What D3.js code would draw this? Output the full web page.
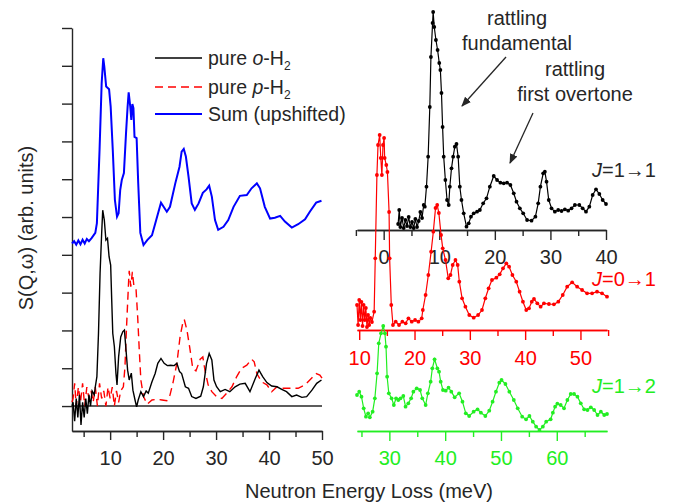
<!DOCTYPE html>
<html>
<head>
<meta charset="utf-8">
<script src="https://cdn.jsdelivr.net/npm/d3@7"></script>
<style>
  body { margin: 0; background: #fff; }
  svg { font-family: "Liberation Sans", Arial, sans-serif; }
</style>
</head>
<body>
<div id="chart"></div>
<script>
// left panel: [energy (meV), S] in tick units
const orthoH2 = [[2.8,0.0],[3.0,0.1],[3.3,-0.4],[3.6,0.2],[3.9,-0.3],[4.2,0.3],[4.5,-0.5],[4.8,0.1],[5.1,-0.3],[5.4,0.2],[5.7,-0.2],[6.0,0.3],[6.3,0.0],[6.6,0.4],[7.0,0.3],
  [7.2,0.51],[7.5,0.78],[7.8,1.92],[8.1,3.51],[8.4,4.57],[8.6,5.18],[8.9,4.92],[9.2,4.39],[9.5,4.44],[9.8,3.95],[10.1,3.73],[10.3,2.8],[10.5,1.92],[10.8,1.57],[11.1,0.86],[11.3,0.56],[11.6,1.3],[12.0,1.83],[12.4,1.97],[12.7,2.01],[13.0,1.48],[13.3,0.95],[13.6,0.69],[14.0,0.87],[14.3,0.42],[14.7,0.16],[15.0,-0.02],[15.3,0.16],[15.8,0.38],[16.3,0.25],[16.8,0.4],[17.2,0.34],[17.9,0.64],[18.5,0.86],[19.0,1.13],[19.6,1.26],[20.2,1.13],[20.8,1.07],[21.4,1.08],[22.1,1.07],[22.6,1.13],[23.1,0.91],[23.5,0.86],[24.2,0.51],[24.8,0.47],[25.4,0.25],[26.2,0.2],[27.1,0.26],[27.6,0.51],[28.2,1.13],[28.7,1.39],[29.2,1.22],[29.6,0.69],[30.1,0.51],[30.8,0.38],[31.7,0.44],[32.6,0.38],[33.6,0.51],[34.5,0.58],[35.5,0.6],[36.4,0.38],[37.4,0.73],[38.1,0.95],[38.8,0.78],[39.6,0.62],[40.5,0.53],[41.5,0.51],[42.4,0.44],[43.3,0.38],[44.3,0.25],[45.2,0.29],[46.2,0.23],[47.1,0.25],[48.1,0.42],[49.0,0.6],[49.9,0.69]];

const paraH2 = [[2.8,0.1],[3.0,0.2],[3.3,0.6],[3.6,0.0],[4.0,0.5],[4.4,0.1],[4.8,0.6],[5.2,0.0],[5.6,0.5],[6.0,0.2],[6.4,0.4],[6.8,0.1],[7.2,0.5],[7.6,0.0],[8.0,0.6],[8.4,0.2],[8.8,0.4],[9.2,0.0],[9.6,0.5],[10.0,0.2],[10.4,0.5],[10.8,0.0],[11.2,0.4],[11.6,0.1],[12.0,0.4],
  [12.5,0.51],[12.8,1.04],[13.1,2.1],[13.5,3.33],[13.6,3.58],[13.9,3.16],[14.2,3.55],[14.5,3.16],[14.9,3.07],[15.2,2.36],[15.5,1.48],[15.8,0.69],[16.3,0.25],[17.0,0.05],[17.9,0.16],[18.8,0.18],[19.8,0.16],[20.7,0.14],[21.3,0.29],[21.9,0.64],[22.6,1.13],[23.2,1.83],[23.7,2.19],[24.0,2.29],[24.5,2.01],[25.0,1.57],[25.6,1.0],[26.2,0.93],[27.0,1.24],[27.5,1.3],[27.9,0.95],[28.5,0.56],[29.2,0.38],[30.1,0.25],[31.1,0.2],[32.0,0.34],[33.0,0.51],[33.9,0.78],[34.8,1.0],[35.8,1.08],[36.7,1.24],[37.2,1.17],[37.7,0.86],[38.6,0.64],[39.6,0.56],[40.5,0.38],[41.5,0.51],[42.7,0.47],[44.0,0.47],[45.5,0.47],[46.8,0.56],[47.7,0.69],[48.9,0.86],[49.6,0.82],[50.0,0.74]];

const sumH2 = [[2.8,4.3],[3.2,4.36],[3.6,4.27],[4.0,4.38],[4.4,4.28],[4.8,4.4],[5.2,4.3],[5.6,4.42],[6.0,4.36],[6.5,4.44],[7.2,4.58],[7.5,4.84],[8.0,6.77],[8.4,8.54],[8.7,9.2],[8.9,8.98],[9.25,8.45],[9.8,8.38],[10.1,7.92],[10.5,6.77],[10.9,5.45],[11.3,5.01],[11.6,5.1],[11.9,5.71],[12.2,5.98],[12.6,6.16],[13.0,7.22],[13.3,7.92],[13.5,8.3],[13.8,7.92],[14.0,7.57],[14.2,7.99],[14.4,7.88],[14.6,7.12],[15.0,7.09],[15.3,5.9],[15.7,4.58],[16.3,4.26],[17.0,4.39],[17.9,4.52],[18.7,4.92],[19.6,5.38],[20.1,5.27],[20.7,5.14],[21.3,5.27],[22.3,5.89],[23.1,6.33],[23.5,6.73],[23.9,6.8],[24.3,6.6],[24.8,6.07],[25.4,5.36],[26.0,5.19],[26.7,5.36],[27.5,5.64],[28.2,5.73],[28.7,5.83],[29.2,5.54],[29.8,4.92],[30.4,4.66],[31.4,4.74],[32.3,4.92],[33.3,5.27],[34.5,5.56],[35.8,5.58],[36.7,5.76],[37.7,5.89],[38.3,5.76],[39.2,5.27],[40.2,4.96],[41.1,4.98],[42.1,5.03],[43.0,4.88],[44.3,4.72],[45.5,4.81],[46.8,4.94],[47.7,5.14],[48.9,5.38],[49.9,5.43]];

// right panel: [energy (meV), intensity]
const rattleJ11 = [[2.6,0.6],[2.8,2.0],[3.0,0.3],[3.3,1.2],[3.6,0.2],[3.9,1.0],[4.2,0.4],[4.5,1.3],[4.8,0.3],[5.1,0.8],[5.4,0.2],[5.7,1.1],[6.0,0.3],[6.3,0.9],[6.6,1.8],[6.9,1.2],[7.2,2.5],
  [7.4,2.33],[7.7,4.33],[8.0,7.33],[8.3,12.3],[8.5,17.3],[8.8,20.7],[8.9,21.8],[9.1,20.3],[9.4,19.0],[9.7,18.0],[10.0,16.7],[10.2,16.0],[10.4,13.7],[10.6,10.3],[10.8,7.33],[11.1,5.0],[11.4,3.0],[11.7,2.5],[11.9,4.33],[12.2,6.17],[12.5,7.33],[12.8,8.33],[13.1,8.6],[13.4,7.33],[13.7,4.33],[14.0,3.0],[14.4,1.67],[14.9,0.33],[15.3,0.67],[15.7,1.33],[16.2,1.67],[16.8,1.83],[17.3,2.0],[17.9,2.67],[18.5,3.17],[19.1,4.33],[19.8,5.4],[20.4,5.0],[21.0,4.73],[21.6,4.67],[22.2,4.73],[22.8,4.5],[23.4,3.67],[23.9,2.83],[24.5,2.17],[25.1,1.67],[25.8,1.0],[26.6,0.93],[27.3,1.33],[27.8,2.67],[28.2,4.33],[28.7,5.67],[29.0,5.83],[29.3,4.83],[29.7,3.0],[30.2,2.17],[30.8,1.83],[31.4,2.0],[32.0,1.9],[32.6,2.07],[33.2,1.93],[33.8,2.17],[34.4,2.5],[35.2,2.5],[35.8,2.17],[36.4,1.83],[37.0,2.33],[37.6,3.5],[38.2,4.07],[38.8,3.6],[39.4,3.0],[40.0,2.6]];

const rattleJ01 = [[9.6,2.5],[9.8,0.5],[10.0,3.0],[10.2,1.0],[10.4,2.8],[10.6,0.4],[10.8,2.5],[11.0,1.0],[11.2,2.2],[11.4,0.3],[11.6,1.5],[11.8,0.5],[12.0,1.2],[12.3,0.8],
  [12.7,1.83],[12.9,7.17],[13.2,15.5],[13.4,18.5],[13.7,19.5],[13.9,17.2],[14.1,15.5],[14.3,18.5],[14.5,19.2],[14.6,17.2],[14.9,16.5],[15.1,15.8],[15.4,11.8],[15.5,7.17],[15.8,2.5],[16.1,0.5],[16.6,0.83],[17.2,0.5],[17.8,0.83],[18.4,0.67],[18.9,1.17],[19.5,0.83],[20.1,1.0],[20.7,0.83],[21.3,1.17],[21.5,2.0],[22.0,3.5],[22.5,5.5],[23.0,7.83],[23.4,9.83],[23.8,12.2],[24.1,12.5],[24.4,11.7],[24.8,9.5],[25.1,8.17],[25.6,7.0],[26.1,5.17],[26.5,5.5],[26.9,6.5],[27.4,7.0],[27.8,6.5],[28.1,4.83],[28.6,3.17],[29.2,2.33],[29.9,1.5],[30.7,1.23],[31.5,1.5],[32.2,2.0],[32.8,3.17],[33.4,4.17],[34.0,5.0],[34.8,5.23],[35.4,5.57],[36.0,6.17],[36.6,6.67],[37.1,6.33],[37.7,5.5],[38.4,4.83],[39.0,3.83],[39.6,2.83],[40.2,2.0],[40.7,2.17],[41.2,2.83],[41.6,3.1],[42.2,2.67],[42.8,2.33],[43.4,2.67],[44.3,2.6],[45.2,2.57],[46.0,2.83],[46.8,3.5],[47.6,4.33],[48.5,4.77],[49.4,4.33],[50.3,4.0],[51.2,3.67],[52.1,3.67],[53.0,3.83],[53.9,3.67],[54.8,3.33]];

const rattleJ12 = [[24.2,3.6],[24.6,3.93],[25.0,3.43],[25.4,2.27],[25.8,1.43],[26.2,1.77],[26.5,1.37],[27.0,1.93],[27.4,3.27],[27.8,5.77],[28.1,8.77],[28.5,9.77],[28.9,10.5],[29.2,9.77],[29.4,8.43],[29.6,5.43],[29.9,3.77],[30.4,3.27],[30.8,2.6],[31.2,3.27],[31.6,3.1],[32.0,3.27],[32.5,3.5],[32.9,2.43],[33.4,2.77],[33.9,3.27],[34.3,3.93],[34.9,4.27],[35.5,4.1],[35.9,3.27],[36.5,2.6],[36.9,3.77],[37.4,4.93],[37.7,6.27],[38.1,7.17],[38.6,6.27],[38.9,5.93],[39.2,4.93],[39.6,4.1],[40.1,4.03],[40.6,4.33],[41.1,3.93],[41.7,3.37],[42.5,3.77],[43.1,2.93],[43.7,1.77],[44.3,1.5],[45.1,1.93],[45.8,2.17],[46.4,1.83],[47.2,1.5],[47.9,2.03],[48.5,2.93],[49.1,3.93],[49.7,4.83],[50.1,5.1],[50.8,4.7],[51.5,3.93],[52.3,3.1],[53.0,2.27],[53.8,1.43],[54.5,1.17],[55.1,1.5],[55.7,0.93],[56.3,0.43],[56.9,0.1],[57.5,0.43],[58.1,0.93],[58.9,1.17],[59.3,1.83],[59.7,2.43],[60.1,2.73],[60.7,2.6],[61.3,2.27],[61.9,3.1],[62.5,3.7],[63.1,3.7],[63.7,3.43],[64.3,2.77],[64.9,2.17],[65.5,2.1],[66.1,2.37],[66.7,2.1],[67.3,1.6],[67.9,1.93],[68.5,1.6],[69.0,1.7]];

// tick values
const leftXTicks = [10, 20, 30, 40, 50];
const leftXMinor = [5, 15, 25, 35, 45];
const leftYTicks = d3.range(0, 11);
const topTicks = [0, 10, 20, 30, 40];
const topMinor = [-5, 5, 15, 25, 35];
const midTicks = [10, 20, 30, 40, 50];
const midMinor = [15, 25, 35, 45, 55];
const lowTicks = [30, 40, 50, 60];
const lowMinor = [25, 35, 45, 55, 65];

const legendItems = [
  { pre: "pure ", it: "o", post: "-H", sub: "2", color: "#000", dash: null },
  { pre: "pure ", it: "p", post: "-H", sub: "2", color: "#ff0000", dash: "8,5" },
  { pre: "Sum (upshifted)", it: "", post: "", sub: "", color: "#0000ff", dash: null }
];

const W = 674, H = 504;
const ink = "#262626";
const red = "#ff0000", green = "#22ee22", blue = "#0000ff";
const fs = "20px";

const svg = d3.select("#chart").append("svg")
    .attr("width", W)
    .attr("height", H);

svg.append("defs").append("marker")
    .attr("id", "arrow")
    .attr("viewBox", "0 0 10 10")
    .attr("refX", 9).attr("refY", 5)
    .attr("markerWidth", 10).attr("markerHeight", 10)
    .attr("markerUnits", "userSpaceOnUse")
    .attr("orient", "auto")
    .append("path")
    .attr("d", "M0,1 L10,5 L0,9 Z")
    .attr("fill", ink);

// ---- left panel ----
const xL = d3.scaleLinear().domain([2.8, 50]).range([72, 322]);
const yL = d3.scaleLinear().domain([-0.66, 10]).range([431, 28]);

function styleAxis(g, color) {
    g.select(".domain").attr("stroke", color).attr("stroke-width", 1.4);
    g.selectAll(".tick line").attr("stroke", color).attr("stroke-width", 1.4);
    g.selectAll("text").attr("fill", color).style("font-size", fs)
        .style("font-family", "'Liberation Sans', Arial, sans-serif");
}

svg.append("g")
    .attr("transform", "translate(72,0)")
    .call(d3.axisLeft(yL).tickValues(leftYTicks).tickSize(10).tickSizeOuter(0).tickFormat(""))
    .call(g => styleAxis(g, ink));

svg.append("g")
    .attr("transform", "translate(0,431)")
    .call(d3.axisBottom(xL).tickValues(leftXTicks).tickSize(9).tickPadding(11).tickSizeOuter(0))
    .call(g => styleAxis(g, ink));

svg.append("g")
    .attr("transform", "translate(0,431)")
    .call(d3.axisBottom(xL).tickValues(leftXMinor).tickSize(6).tickSizeOuter(0).tickFormat(""))
    .call(g => styleAxis(g, ink));

svg.append("line")
    .attr("x1", xL(2.8)).attr("x2", xL(50))
    .attr("y1", yL(0)).attr("y2", yL(0))
    .attr("stroke", ink).attr("stroke-width", 1.4);

const lineL = d3.line().x(d => xL(d[0])).y(d => yL(d[1]));

svg.append("path").datum(paraH2)
    .attr("d", lineL).attr("fill", "none")
    .attr("stroke", red).attr("stroke-width", 1.4).attr("stroke-dasharray", "8,5");

svg.append("path").datum(orthoH2)
    .attr("d", lineL).attr("fill", "none")
    .attr("stroke", "#000").attr("stroke-width", 1.4);

svg.append("path").datum(sumH2)
    .attr("d", lineL).attr("fill", "none")
    .attr("stroke", blue).attr("stroke-width", 2);

// legend
const legend = svg.selectAll(".legend")
    .data(legendItems)
    .enter().append("g")
    .attr("class", "legend")
    .attr("transform", (d, i) => `translate(155,${[58, 87, 114][i]})`);

legend.append("line")
    .attr("x1", 0).attr("x2", 47)
    .attr("stroke", d => d.color)
    .attr("stroke-width", d => d.color === blue ? 2 : 1.4)
    .attr("stroke-dasharray", d => d.dash);

const lt = legend.append("text")
    .attr("x", 53).attr("y", 7)
    .attr("fill", ink)
    .style("font-size", "19.5px");
lt.append("tspan").text(d => d.pre);
lt.append("tspan").style("font-style", "italic").text(d => d.it);
lt.append("tspan").text(d => d.post);
lt.append("tspan").attr("dy", 5).style("font-size", "12px").text(d => d.sub);

// ---- right panel ----
const xT = d3.scaleLinear().domain([-4.8, 40]).range([357, 606]);
const yT = d3.scaleLinear().domain([0, 22]).range([230, 10]);
const xM = d3.scaleLinear().domain([9.6, 54.8]).range([357, 607]);
const yM = d3.scaleLinear().domain([0, 20]).range([330, 130]);
const xB = d3.scaleLinear().domain([24.2, 69]).range([357, 607]);
const yB = d3.scaleLinear().domain([0, 11]).range([431, 321]);

function panelAxis(x, y0, major, minor, color, pad) {
    svg.append("g")
        .attr("transform", `translate(0,${y0})`)
        .call(d3.axisBottom(x).tickValues(major).tickSize(10).tickPadding(pad).tickSizeOuter(0))
        .call(g => styleAxis(g, color));
    svg.append("g")
        .attr("transform", `translate(0,${y0})`)
        .call(d3.axisBottom(x).tickValues(minor).tickSize(6).tickSizeOuter(0).tickFormat(""))
        .call(g => styleAxis(g, color));
}

panelAxis(xT, 230, topTicks, topMinor, ink, 10);
panelAxis(xM, 330, midTicks, midMinor, red, 11);
panelAxis(xB, 431, lowTicks, lowMinor, green, 10);

function dotted(data, x, y, color) {
    svg.append("path").datum(data)
        .attr("d", d3.line().x(d => x(d[0])).y(d => y(d[1])))
        .attr("fill", "none").attr("stroke", color).attr("stroke-width", 1.2);
    svg.append("g").selectAll("circle")
        .data(data)
        .enter().append("circle")
        .attr("cx", d => x(d[0]))
        .attr("cy", d => y(d[1]))
        .attr("r", 1.9)
        .attr("fill", color);
}

dotted(rattleJ11, xT, yT, "#000");
dotted(rattleJ12, xB, yB, green);
dotted(rattleJ01, xM, yM, red);

// J labels
const jLabels = [
    { txt: "=1\u21921", y: 177, color: ink },
    { txt: "=0\u21921", y: 286, color: red },
    { txt: "=1\u21922", y: 393, color: green }
];
const jt = svg.selectAll(".jlab")
    .data(jLabels)
    .enter().append("text")
    .attr("class", "jlab")
    .attr("x", 592).attr("y", d => d.y)
    .attr("fill", d => d.color)
    .style("font-size", fs);
jt.append("tspan").style("font-style", "italic").text("J");
jt.append("tspan").text(d => d.txt);

// annotations
const notes = [
    { lines: ["rattling", "fundamental"], x: 517, y: 25, from: [506, 57], to: [462, 106] },
    { lines: ["rattling", "first overtone"], x: 575, y: 76, from: [533, 113], to: [510, 163] }
];
notes.forEach(n => {
    n.lines.forEach((l, i) => {
        svg.append("text")
            .attr("x", n.x).attr("y", n.y + i * 25)
            .attr("text-anchor", "middle")
            .attr("fill", ink)
            .style("font-size", fs)
            .text(l);
    });
    svg.append("line")
        .attr("x1", n.from[0]).attr("y1", n.from[1])
        .attr("x2", n.to[0]).attr("y2", n.to[1])
        .attr("stroke", ink).attr("stroke-width", 1.3)
        .attr("marker-end", "url(#arrow)");
});

// axis titles
svg.append("text")
    .attr("transform", "translate(33,228) rotate(-90)")
    .attr("text-anchor", "middle")
    .attr("fill", ink)
    .style("font-size", fs)
    .text("S(Q,\u03c9) (arb. units)");

svg.append("text")
    .attr("x", 369).attr("y", 498)
    .attr("text-anchor", "middle")
    .attr("fill", ink)
    .style("font-size", fs)
    .text("Neutron Energy Loss (meV)");
</script>
</body>
</html>
